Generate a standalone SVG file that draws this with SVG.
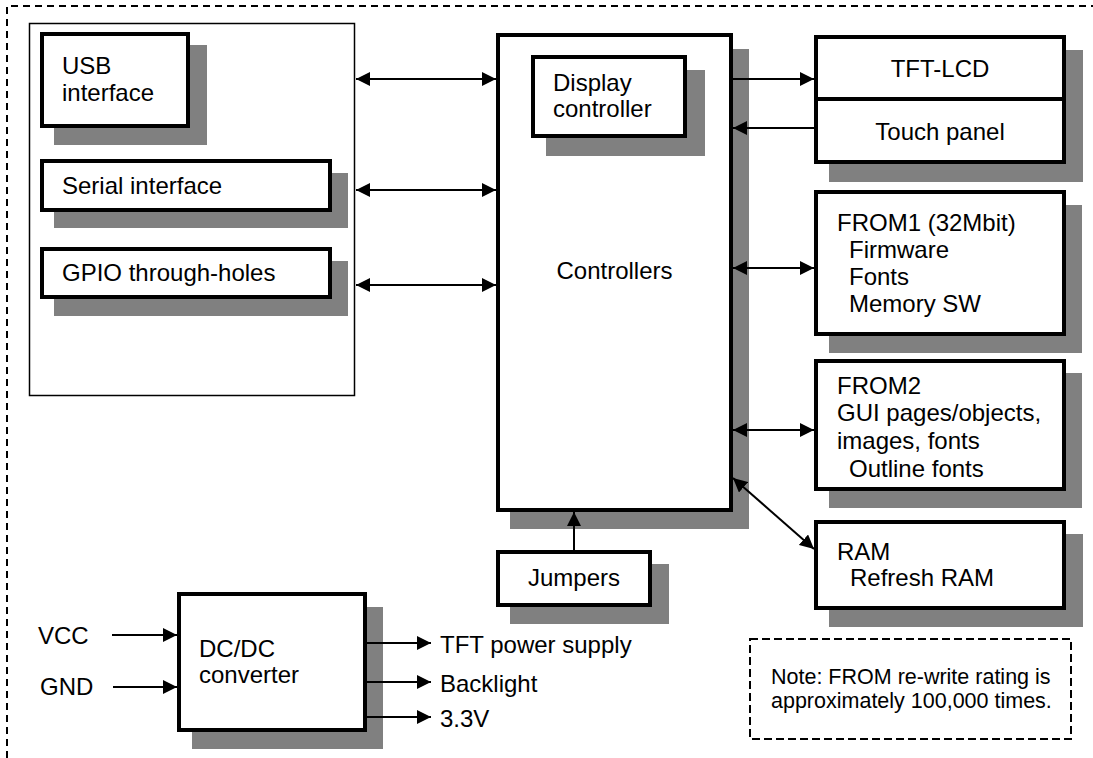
<svg xmlns="http://www.w3.org/2000/svg" width="1093" height="758" viewBox="0 0 1093 758">
<style>
.frame{fill:none;stroke:#000;stroke-width:2;stroke-dasharray:7 5}
.note{fill:#fff;stroke:#000;stroke-width:2;stroke-dasharray:8 4}
.thin{fill:#fff;stroke:#000;stroke-width:1.5}
.box{fill:#fff;stroke:#000;stroke-width:4}
.sh{fill:#808080}
.t{font-family:"Liberation Sans",Arial,sans-serif;font-size:24px;fill:#000}
.c{text-anchor:middle}
.n{font-size:21.5px}
.ln{stroke:#000;stroke-width:2;fill:none}
.one{marker-end:url(#ah)}
.two{marker-end:url(#ah);marker-start:url(#ah)}
</style>
<defs>
<marker id="ah" markerUnits="userSpaceOnUse" markerWidth="14" markerHeight="14" refX="14" refY="7" orient="auto-start-reverse" viewBox="0 0 14 14">
<path d="M0,0 L14,7 L0,14 z" fill="#000"/>
</marker>
</defs>
<rect width="1093" height="758" fill="#fff"/>
<path class="frame" d="M7,770 V6 H1100"/>

<g id="io-group">
<rect class="thin" x="29.5" y="23.5" width="325" height="372"/>
</g>
<g id="usb">
<rect class="sh" x="54" y="45" width="153" height="100"/>
<rect class="box" x="42" y="34" width="146" height="92"/>
<text class="t" x="62" y="74">USB</text>
<text class="t" x="62" y="101">interface</text>
</g>
<g id="serial">
<rect class="sh" x="54" y="173" width="294" height="55"/>
<rect class="box" x="42" y="161" width="288" height="49"/>
<text class="t" x="62" y="194">Serial interface</text>
</g>
<g id="gpio">
<rect class="sh" x="54" y="261" width="294" height="55"/>
<rect class="box" x="42" y="249" width="288" height="48"/>
<text class="t" x="62" y="281">GPIO through-holes</text>
</g>
<g id="controllers">
<rect class="sh" x="510" y="49" width="239" height="480"/>
<rect class="box" x="498" y="35" width="233" height="475"/>
<text class="t c" x="614.5" y="279">Controllers</text>
</g>
<g id="display-controller">
<rect class="sh" x="546" y="70" width="159" height="86"/>
<rect class="box" x="533" y="57" width="152" height="79"/>
<text class="t" x="553" y="91">Display</text>
<text class="t" x="553" y="117">controller</text>
</g>
<g id="tft-touch">
<rect class="sh" x="829" y="50" width="254" height="132"/>
<rect class="box" x="816" y="37" width="248" height="125"/>
<line x1="816" y1="99" x2="1064" y2="99" stroke="#000" stroke-width="4"/>
<text class="t c" x="940" y="77">TFT-LCD</text>
<text class="t c" x="940" y="140">Touch panel</text>
</g>
<g id="from1">
<rect class="sh" x="829" y="205" width="253" height="148"/>
<rect class="box" x="816" y="192" width="248" height="142"/>
<text class="t" x="837" y="231">FROM1 (32Mbit)</text>
<text class="t" x="849" y="258">Firmware</text>
<text class="t" x="849" y="285">Fonts</text>
<text class="t" x="849" y="312">Memory SW</text>
</g>
<g id="from2">
<rect class="sh" x="829" y="373" width="253" height="135"/>
<rect class="box" x="816" y="361" width="248" height="128"/>
<text class="t" x="837" y="394">FROM2</text>
<text class="t" x="837" y="421">GUI pages/objects,</text>
<text class="t" x="837" y="449">images, fonts</text>
<text class="t" x="849" y="477">Outline fonts</text>
</g>
<g id="ram">
<rect class="sh" x="829" y="534" width="254" height="93"/>
<rect class="box" x="816" y="522" width="248" height="86"/>
<text class="t" x="837" y="560">RAM</text>
<text class="t" x="850" y="586">Refresh RAM</text>
</g>
<g id="jumpers">
<rect class="sh" x="510" y="564" width="159" height="60"/>
<rect class="box" x="498" y="552" width="152" height="53"/>
<text class="t c" x="574" y="586">Jumpers</text>
</g>
<g id="dcdc">
<rect class="sh" x="192" y="607" width="191" height="142"/>
<rect class="box" x="179" y="594" width="186" height="136"/>
<text class="t" x="199" y="657">DC/DC</text>
<text class="t" x="199" y="683">converter</text>
</g>
<g id="labels">
<text class="t" x="38" y="644">VCC</text>
<text class="t" x="40" y="695">GND</text>
<text class="t" x="440" y="653">TFT power supply</text>
<text class="t" x="440" y="692">Backlight</text>
<text class="t" x="440" y="727">3.3V</text>
</g>
<g id="note">
<rect class="note" x="750" y="639" width="321" height="100"/>
<text class="t n" x="771" y="684">Note: FROM re-write rating is</text>
<text class="t n" x="771" y="708">approximately 100,000 times.</text>
</g>

<g id="connectors">
<line class="ln two" x1="356" y1="79" x2="496" y2="79"/>
<line class="ln two" x1="356" y1="190" x2="496" y2="190"/>
<line class="ln two" x1="356" y1="285" x2="496" y2="285"/>
<line class="ln one" x1="733" y1="79" x2="814" y2="79"/>
<line class="ln one" x1="814" y1="128" x2="733" y2="128"/>
<line class="ln two" x1="733" y1="268" x2="814" y2="268"/>
<line class="ln two" x1="733" y1="430" x2="814" y2="430"/>
<line class="ln two" x1="733" y1="478" x2="814" y2="549"/>
<line class="ln one" x1="574" y1="550" x2="574" y2="512"/>
<line class="ln one" x1="112" y1="635" x2="177" y2="635"/>
<line class="ln one" x1="113" y1="687" x2="177" y2="687"/>
<line class="ln one" x1="367" y1="643" x2="431" y2="643"/>
<line class="ln one" x1="367" y1="682" x2="431" y2="682"/>
<line class="ln one" x1="367" y1="717" x2="431" y2="717"/>
</g>
</svg>
